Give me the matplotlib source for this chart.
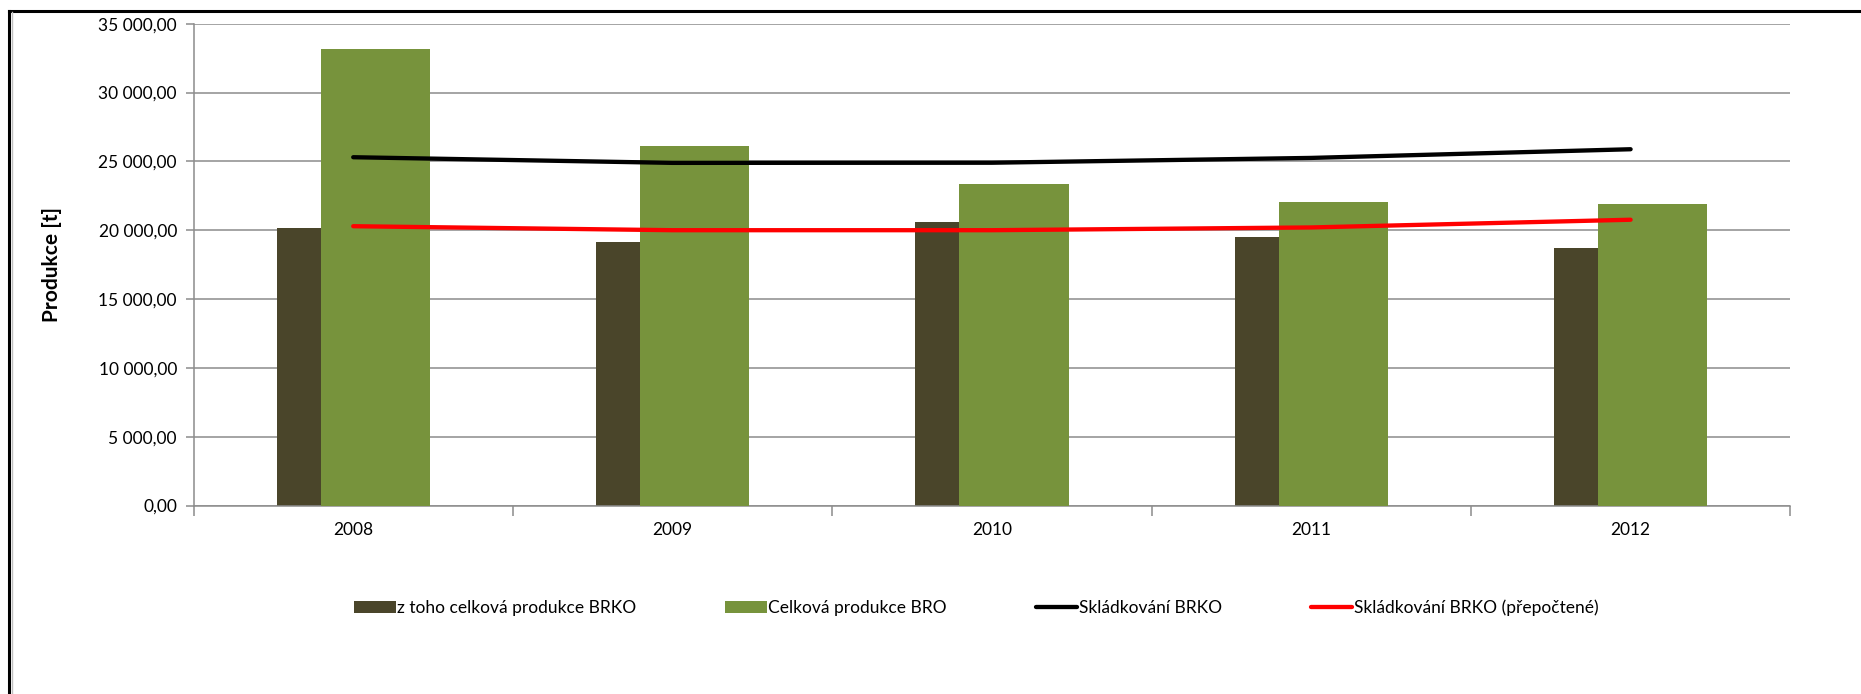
import numpy as np
import matplotlib.pyplot as plt
from matplotlib.lines import Line2D
from matplotlib.ticker import FuncFormatter

plt.rcParams['font.family'] = ['Lato', 'DejaVu Sans']

# data
years = ['2008', '2009', '2010', '2011', '2012']
brko_total = [20150, 19150, 20580, 19490, 18710]
bro_total = [33170, 26140, 23370, 22050, 21910]
landfill_brko = [25300, 24890, 24900, 25250, 25880]
landfill_brko_recalc = [20290, 20000, 20000, 20200, 20760]

labels = ['z toho celková produkce BRKO', 'Celková produkce BRO',
          'Skládkování BRKO', 'Skládkování BRKO (přepočtené)']

fig = plt.figure(figsize=(18.61, 6.94), dpi=100)
ax = fig.add_axes([0.104, 0.2715, 0.858, 0.6944])

x = np.arange(len(years))
w = 0.342
off = 0.069
b1 = ax.bar(x - off, brko_total, w, color='#4A452A', zorder=2, label=labels[0])
b2 = ax.bar(x + off, bro_total, w, color='#77933C', zorder=3, label=labels[1])
l1, = ax.plot(x, landfill_brko, color='black', lw=3.1, zorder=4,
              solid_capstyle='round', label=labels[2])
l2, = ax.plot(x, landfill_brko_recalc, color='#FF0000', lw=3.1, zorder=4,
              solid_capstyle='round', label=labels[3])

ax.set_xlim(-0.5, len(years) - 0.5)
ax.set_ylim(0, 35000)
ax.set_yticks(np.arange(0, 35001, 5000))


def fmt(v, pos):
    return f'{v:,.2f}'.replace(',', ' ').replace('.', ',')


ax.yaxis.set_major_formatter(FuncFormatter(fmt))
ax.grid(axis='y', color='#8C8C8C', lw=1.1, zorder=0)
ax.set_axisbelow(True)

# category boundaries as major ticks, labels on minor ticks
ax.set_xticks(np.arange(-0.5, len(years), 1.0))
ax.set_xticklabels([])
ax.set_xticks(x, minor=True)
ax.set_xticklabels(years, minor=True)
ax.tick_params(axis='x', which='major', length=7, color='#8C8C8C', width=1.1)
ax.tick_params(axis='x', which='minor', length=0, pad=12, labelsize=12.5)
ax.tick_params(axis='y', length=6, color='#8C8C8C', width=1.1, labelsize=12.5, pad=6)

for s in ['top', 'right']:
    ax.spines[s].set_visible(False)
for s in ['left', 'bottom']:
    ax.spines[s].set_color('#8C8C8C')
    ax.spines[s].set_linewidth(1.1)

ax.set_ylabel('Produkce [t]', fontsize=15, fontweight='bold', labelpad=26)

fig.legend(handles=[b1, b2, l1, l2], labels=labels, loc='center',
           bbox_to_anchor=(0.5246, 0.124), ncol=4, frameon=False,
           fontsize=12.5, handlelength=2.4, handletextpad=0.1,
           columnspacing=5.1)

# outer frame (top and left edges only)
fig.add_artist(Line2D([0.0048, 1.0], [0.984, 0.984], color='black', lw=2.2,
                      transform=fig.transFigure))
fig.add_artist(Line2D([0.0048, 0.0048], [0.0, 0.984], color='black', lw=2.2,
                      transform=fig.transFigure))
fig.add_artist(Line2D([0.0062, 0.0062], [0.0, 0.982], color='#C0C0C0', lw=1,
                      transform=fig.transFigure))

fig.savefig('out.png', dpi=100)
